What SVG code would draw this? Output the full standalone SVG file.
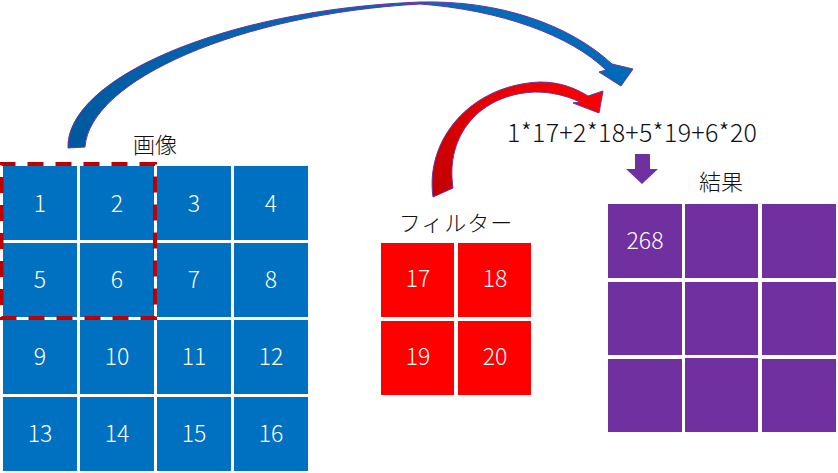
<svg xmlns="http://www.w3.org/2000/svg" width="838" height="473" viewBox="0 0 838 473">
<defs>
<style>
.b{fill:#0070C0}
.r{fill:#FF0000}
.p{fill:#7030A0}
.n{fill:#FFFFFF;font-family:"Noto Sans CJK JP","Noto Sans",sans-serif;font-size:23px;font-weight:300;text-anchor:middle}
.l{fill:#111111;font-family:"Noto Sans CJK JP","Noto Sans",sans-serif;font-size:22px;font-weight:300;text-anchor:middle}
</style>
<linearGradient id="gb" x1="0" y1="1" x2="1" y2="0">
<stop offset="0" stop-color="#00589C"/>
<stop offset="1" stop-color="#0070C0"/>
</linearGradient>
<linearGradient id="gr" x1="0" y1="1" x2="1" y2="0">
<stop offset="0" stop-color="#C00000"/>
<stop offset="1" stop-color="#FF0000"/>
</linearGradient>
</defs>
<rect width="838" height="473" fill="#FFFFFF"/>
<g id="connectors">
<path id="blue-arrow" d="M68,148 C66,80 220,10 420,2 C500,0 570,25 612,64 L633,69 L621,86 L599,72 L606,70 C570,35 500,10 420,4 C240,14 90,80 85,147 Z" fill="url(#gb)" stroke="#7030A0" stroke-width="1"/>
<path id="red-arrow" d="M433,197 C425,140 470,85 540,82 C560,82 575,88 588,96 L603,91 L599,113 L573,103 L580,102 C565,95 550,92 535,92 C480,94 445,135 453,188 Z" fill="url(#gr)" stroke="#7030A0" stroke-width="1"/>
<polygon id="down-arrow" points="635,154 650,154 650,169 658,169 642,184 626,169 635,169" fill="#7030A0"/>
</g>
<g id="image">
<text class="l" x="155" y="153">画像</text>
<g id="c1"><rect class="b" x="3" y="166" width="74" height="74"/><text class="n" x="40" y="212">1</text></g>
<g id="c2"><rect class="b" x="80" y="166" width="74" height="74"/><text class="n" x="117" y="212">2</text></g>
<g id="c3"><rect class="b" x="157" y="166" width="74" height="74"/><text class="n" x="194" y="212">3</text></g>
<g id="c4"><rect class="b" x="234" y="166" width="74" height="74"/><text class="n" x="271" y="212">4</text></g>
<g id="c5"><rect class="b" x="3" y="243" width="74" height="74"/><text class="n" x="40" y="288">5</text></g>
<g id="c6"><rect class="b" x="80" y="243" width="74" height="74"/><text class="n" x="117" y="288">6</text></g>
<g id="c7"><rect class="b" x="157" y="243" width="74" height="74"/><text class="n" x="194" y="288">7</text></g>
<g id="c8"><rect class="b" x="234" y="243" width="74" height="74"/><text class="n" x="271" y="288">8</text></g>
<g id="c9"><rect class="b" x="3" y="320" width="74" height="74"/><text class="n" x="40" y="365">9</text></g>
<g id="c10"><rect class="b" x="80" y="320" width="74" height="74"/><text class="n" x="117" y="365">10</text></g>
<g id="c11"><rect class="b" x="157" y="320" width="74" height="74"/><text class="n" x="194" y="365">11</text></g>
<g id="c12"><rect class="b" x="234" y="320" width="74" height="74"/><text class="n" x="271" y="365">12</text></g>
<g id="c13"><rect class="b" x="3" y="397" width="74" height="74"/><text class="n" x="40" y="442">13</text></g>
<g id="c14"><rect class="b" x="80" y="397" width="74" height="74"/><text class="n" x="117" y="442">14</text></g>
<g id="c15"><rect class="b" x="157" y="397" width="74" height="74"/><text class="n" x="194" y="442">15</text></g>
<g id="c16"><rect class="b" x="234" y="397" width="74" height="74"/><text class="n" x="271" y="442">16</text></g>
<rect id="window" x="1.5" y="164" width="153.5" height="154" fill="none" stroke="#C00000" stroke-width="4" stroke-dasharray="16 12" stroke-dashoffset="2"/>
</g>
<g id="filter">
<text class="l" x="456" y="231" letter-spacing="1">フィルター</text>
<g id="f17"><rect class="r" x="381" y="243" width="73" height="74"/><text class="n" x="418" y="287">17</text></g>
<g id="f18"><rect class="r" x="458" y="243" width="73" height="74"/><text class="n" x="495" y="287">18</text></g>
<g id="f19"><rect class="r" x="381" y="321" width="73" height="74"/><text class="n" x="418" y="365">19</text></g>
<g id="f20"><rect class="r" x="458" y="321" width="73" height="74"/><text class="n" x="495" y="365">20</text></g>
</g>
<g id="formula">
<text class="l" x="632" y="142" style="font-size:25px" textLength="250" lengthAdjust="spacing">1*17+2*18+5*19+6*20</text>
</g>
<g id="result">
<text class="l" x="721" y="190">結果</text>
<g id="r1"><rect class="p" x="608" y="204" width="74" height="74"/><text class="n" x="645" y="249">268</text></g>
<g id="r2"><rect class="p" x="685" y="204" width="73" height="74"/></g>
<g id="r3"><rect class="p" x="762" y="204" width="74" height="74"/></g>
<g id="r4"><rect class="p" x="608" y="282" width="74" height="73"/></g>
<g id="r5"><rect class="p" x="685" y="282" width="73" height="73"/></g>
<g id="r6"><rect class="p" x="762" y="282" width="74" height="73"/></g>
<g id="r7"><rect class="p" x="608" y="359" width="74" height="73"/></g>
<g id="r8"><rect class="p" x="685" y="358" width="73" height="74"/></g>
<g id="r9"><rect class="p" x="762" y="359" width="74" height="73"/></g>
</g>
</svg>
